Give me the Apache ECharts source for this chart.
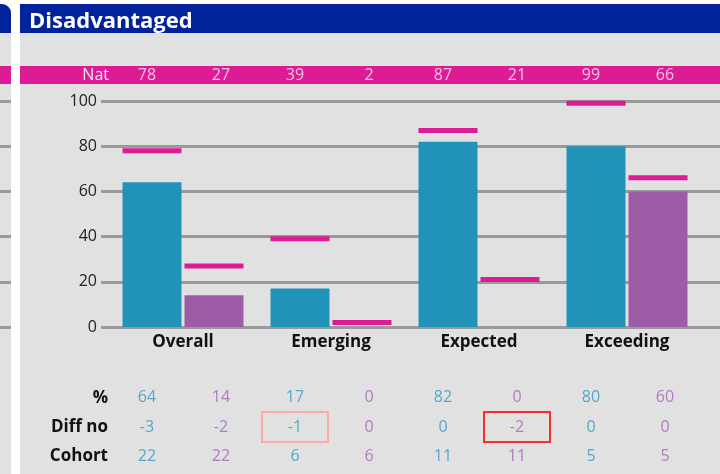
<!DOCTYPE html>
<html>
<head>
<meta charset="utf-8">
<script src="https://cdn.jsdelivr.net/npm/echarts@6/dist/echarts.min.js"></script>
<style>
html,body{margin:0;padding:0;background:#fff;}
#chart{width:720px;height:474px;}
</style>
</head>
<body>
<div id="chart"></div>
<script>
// ---- data ----
const title = 'Disadvantaged';
const categories = ['Overall', 'Emerging', 'Expected', 'Exceeding'];
const pctBlue = [64, 17, 82, 80];
const pctPurple = [14, 0, 0, 60];
const natBlue = [78, 39, 87, 99];
const natPurple = [27, 2, 21, 66];
const diffBlue = [-3, -1, 0, 0];
const diffPurple = [-2, 0, -2, 0];
const cohortBlue = [22, 6, 11, 5];
const cohortPurple = [22, 6, 11, 5];
const diffFlagBlue = [0, 1, 0, 0];   // 1 = soft highlight, 2 = strong highlight
const diffFlagPurple = [0, 0, 2, 0];
const natLabel = 'Nat';
const tableRows = ['%', 'Diff no', 'Cohort'];
const yMin = 0, yMax = 100, yStep = 20;

// ---- styles ----
const FONT = '"Open Sans", "Noto Sans", sans-serif';
const C_BLUE = '#2192b8', C_PURPLE = '#9c5ca6', C_PINK = '#dc1b95';
const T_BLUE = '#3399c5', T_PURPLE = '#a365b3';
const C_TITLE = '#00229a', C_BG = '#e1e1e1', C_GRID = '#9a9a9a';
const BAR_W = 59, BAR_GAP = 3;
const flagColor = {1: '#ff9c9c', 2: '#ff0000'};

const cols = [];
categories.forEach(c => { cols.push(c + ' A'); cols.push(c + ' B'); });

function markerSeries(values, dir) {
  return {
    type: 'custom', xAxisIndex: 0, yAxisIndex: 0, z: 5,
    data: values.map((v, i) => [i, v]),
    renderItem(params, api) {
      const c = api.coord([api.value(0), api.value(1)]);
      const cx = c[0] + dir * (BAR_GAP / 2 + BAR_W / 2);
      return {type: 'rect', shape: {x: cx - BAR_W / 2, y: c[1] - 2.5, width: BAR_W, height: 5},
              style: {fill: C_PINK}};
    }
  };
}

function cell(col, row, val, color, flag) {
  const item = {value: [col, row, val], label: {color: color}};
  if (flag) {
    Object.assign(item.label, {borderColor: flagColor[flag], borderWidth: 2,
      width: 66, height: 30, lineHeight: 30, align: 'center', verticalAlign: 'middle'});
  }
  return item;
}
const tableData = [];
const rowsBlue = [pctBlue, diffBlue, cohortBlue];
const rowsPurple = [pctPurple, diffPurple, cohortPurple];
categories.forEach((c, i) => {
  rowsBlue.forEach((arr, r) => tableData.push(cell(2 * i, r, arr[i], T_BLUE, r === 1 ? diffFlagBlue[i] : 0)));
  rowsPurple.forEach((arr, r) => tableData.push(cell(2 * i + 1, r, arr[i], T_PURPLE, r === 1 ? diffFlagPurple[i] : 0)));
});
const natData = [];
categories.forEach((c, i) => {
  natData.push({value: [2 * i, 0, natBlue[i]]});
  natData.push({value: [2 * i + 1, 0, natPurple[i]]});
});

const hiddenCat = (gridIndex, data) => ({type: 'category', gridIndex, data, show: false});
const gridY = (gridIndex) => ({type: 'value', gridIndex, min: yMin, max: yMax, interval: yStep,
  axisLabel: {show: false}, axisLine: {show: false}, axisTick: {show: false},
  splitLine: {show: true, lineStyle: {color: C_GRID, width: 3}}});

const chart = echarts.init(document.getElementById('chart'), null, {renderer: 'canvas'});
chart.setOption({
  backgroundColor: '#ffffff',
  animation: false,
  textStyle: {fontFamily: FONT},
  title: {text: title, left: 24, top: 3,
    textStyle: {color: '#ffffff', fontSize: 22, fontWeight: 'bold', fontFamily: FONT, lineHeight: 28}},
  graphic: [
    {type: 'rect', z: -10, shape: {x: 0, y: 4, width: 11, height: 29, r: [0, 9, 0, 0]}, style: {fill: C_TITLE}},
    {type: 'rect', z: -10, shape: {x: 0, y: 33, width: 11, height: 441}, style: {fill: C_BG}},
    {type: 'rect', z: -10, shape: {x: 0, y: 66, width: 11, height: 18}, style: {fill: C_PINK}},
    {type: 'rect', z: -10, shape: {x: 20, y: 4, width: 700, height: 29}, style: {fill: C_TITLE}},
    {type: 'rect', z: -10, shape: {x: 20, y: 33, width: 700, height: 441}, style: {fill: C_BG}},
    {type: 'rect', z: -10, shape: {x: 20, y: 66, width: 700, height: 18}, style: {fill: C_PINK}}
  ],
  grid: [
    {left: 109, top: 101, width: 592, height: 226},   // bars
    {left: 101, top: 101, right: 0, height: 226},     // gridlines main
    {left: 0, top: 101, width: 11, height: 226},      // gridlines left panel
    {left: 110, top: 66, width: 592, height: 18},     // Nat row
    {left: 110, top: 383, width: 592, height: 88}     // table
  ],
  xAxis: [
    {type: 'category', gridIndex: 0, data: categories,
      axisLine: {show: false}, axisTick: {show: false},
      axisLabel: {color: '#111', fontWeight: 'bold', fontSize: 17, margin: 7, fontFamily: FONT}},
    hiddenCat(1, categories),
    hiddenCat(2, categories),
    hiddenCat(3, cols),
    hiddenCat(4, cols)
  ],
  yAxis: [
    {type: 'value', gridIndex: 0, min: yMin, max: yMax, interval: yStep,
      axisLine: {show: false}, axisTick: {show: false}, splitLine: {show: false},
      axisLabel: {color: '#222', fontSize: 16, margin: 12, fontFamily: FONT}},
    gridY(1),
    gridY(2),
    {type: 'category', gridIndex: 3, data: [natLabel],
      axisLine: {show: false}, axisTick: {show: false},
      axisLabel: {color: '#fbeef6', fontSize: 16, margin: 1, fontFamily: FONT}},
    {type: 'category', gridIndex: 4, data: tableRows, inverse: true,
      axisLine: {show: false}, axisTick: {show: false},
      axisLabel: {color: '#111', fontSize: 17, fontWeight: 'bold', margin: 2, fontFamily: FONT}}
  ],
  series: [
    {type: 'bar', xAxisIndex: 0, yAxisIndex: 0, data: pctBlue, barWidth: BAR_W,
      barGap: (BAR_GAP / BAR_W * 100) + '%', itemStyle: {color: C_BLUE}, z: 3},
    {type: 'bar', xAxisIndex: 0, yAxisIndex: 0, data: pctPurple, barWidth: BAR_W,
      itemStyle: {color: C_PURPLE}, z: 3},
    markerSeries(natBlue, -1),
    markerSeries(natPurple, 1),
    {type: 'scatter', xAxisIndex: 3, yAxisIndex: 3, symbolSize: 0, data: natData,
      label: {show: true, position: 'inside', formatter: p => String(p.value[2]),
        color: '#fbeef6', fontSize: 16, fontFamily: FONT}},
    {type: 'scatter', xAxisIndex: 4, yAxisIndex: 4, symbolSize: 0, data: tableData,
      label: {show: true, position: 'inside', formatter: p => String(p.value[2]),
        fontSize: 16, fontFamily: FONT}}
  ]
});
</script>
</body>
</html>
